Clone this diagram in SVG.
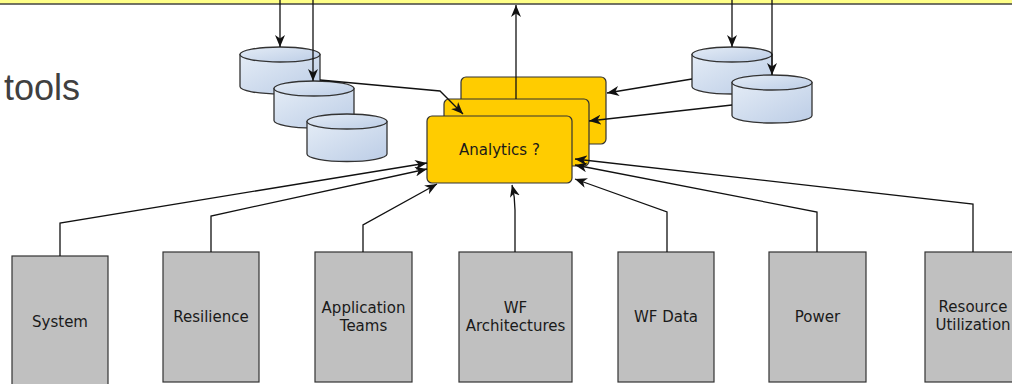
<svg xmlns="http://www.w3.org/2000/svg" width="1012" height="384" viewBox="0 0 1012 384">
  <defs>
    <linearGradient id="cylFill" x1="0" y1="0" x2="1" y2="1">
      <stop offset="0" stop-color="#e4ecf6"/>
      <stop offset="1" stop-color="#bccde6"/>
    </linearGradient>
    <marker id="arrow" viewBox="0 0 12 10" refX="12" refY="5" markerWidth="12" markerHeight="10" markerUnits="userSpaceOnUse" orient="auto">
      <path d="M0,0 L12,5 L0,10 L3.5,5 Z" fill="#111"/>
    </marker>
    <style>
      .cyl { fill: url(#cylFill); stroke: #333; stroke-width: 1.3; }
      .ana { fill: #ffcc00; stroke: #333; stroke-width: 1.2; }
      .src { fill: #c0c0c0; stroke: #333; stroke-width: 1.2; }
      .lbl { font-family: "DejaVu Sans", Verdana, sans-serif; font-size: 15px; fill: #1a1a1a; text-anchor: middle; }
      .edge { fill: none; stroke: #111; stroke-width: 1.3; }
      .arr { marker-end: url(#arrow); }
    </style>
  </defs>

  <rect width="1012" height="384" fill="#ffffff"/>

  <!-- top band -->
  <g id="top-band">
    <rect x="-5" y="-10" width="1022" height="14" fill="#ffff88" stroke="#444" stroke-width="1.5"/>
  </g>

  <text x="4" y="100" font-family="Liberation Sans, Arial, sans-serif" font-size="36" fill="#404040">tools</text>

  <!-- left storage stack -->
  <g id="store-l1">
    <path class="cyl" d="M240,54.5 L240,86.5 A40,7.5 0 0 0 320,86.5 L320,54.5 Z"/>
    <ellipse class="cyl" cx="280" cy="54.5" rx="40" ry="7.5"/>
  </g>
  <g id="store-l2">
    <path class="cyl" d="M274,88.5 L274,120.5 A40,7.5 0 0 0 354,120.5 L354,88.5 Z"/>
    <ellipse class="cyl" cx="314" cy="88.5" rx="40" ry="7.5"/>
  </g>
  <g id="store-l3">
    <path class="cyl" d="M307,121.5 L307,154 A40,7.5 0 0 0 387,154 L387,121.5 Z"/>
    <ellipse class="cyl" cx="347" cy="121.5" rx="40" ry="7.5"/>
  </g>

  <!-- right storage pair -->
  <g id="store-r1">
    <path class="cyl" d="M692,54.5 L692,86.5 A40,7.5 0 0 0 772,86.5 L772,54.5 Z"/>
    <ellipse class="cyl" cx="732" cy="54.5" rx="40" ry="7.5"/>
  </g>
  <g id="store-r2">
    <path class="cyl" d="M732,82.5 L732,115.5 A40,7.5 0 0 0 812,115.5 L812,82.5 Z"/>
    <ellipse class="cyl" cx="772" cy="82.5" rx="40" ry="7.5"/>
  </g>

  <!-- analytics stack -->
  <g id="analytics-back">
    <rect class="ana" x="461" y="77" width="145" height="67" rx="5"/>
  </g>
  <g id="analytics-mid">
    <rect class="ana" x="444" y="99" width="145" height="67" rx="5"/>
  </g>
  <g id="analytics">
    <rect class="ana" x="427" y="116" width="145" height="67" rx="5"/>
    <text class="lbl" x="499.5" y="155">Analytics ?</text>
  </g>

  <!-- data sources -->
  <g id="src-system">
    <rect class="src" x="12" y="256" width="96" height="134"/>
    <text class="lbl" x="60" y="327">System</text>
  </g>
  <g id="src-resilience">
    <rect class="src" x="163" y="252" width="96" height="130"/>
    <text class="lbl" x="211" y="322">Resilience</text>
  </g>
  <g id="src-app-teams">
    <rect class="src" x="315" y="252" width="97" height="130"/>
    <text class="lbl" x="363.5" y="313">Application</text>
    <text class="lbl" x="363.5" y="331">Teams</text>
  </g>
  <g id="src-wf-arch">
    <rect class="src" x="459" y="252" width="113" height="130"/>
    <text class="lbl" x="515.5" y="313">WF</text>
    <text class="lbl" x="515.5" y="331">Architectures</text>
  </g>
  <g id="src-wf-data">
    <rect class="src" x="618" y="252" width="96" height="130"/>
    <text class="lbl" x="666" y="322">WF Data</text>
  </g>
  <g id="src-power">
    <rect class="src" x="769" y="252" width="97" height="130"/>
    <text class="lbl" x="817.5" y="322">Power</text>
  </g>
  <g id="src-resource">
    <rect class="src" x="925" y="252" width="96" height="130"/>
    <text class="lbl" x="973" y="312">Resource</text>
    <text class="lbl" x="973" y="330">Utilization</text>
  </g>

  <!-- connectors -->
  <g id="connectors">
    <path class="edge arr" d="M280,0 L280,47"/>
    <path class="edge arr" d="M313,0 L313,81"/>
    <path class="edge arr" d="M732,0 L732,47"/>
    <path class="edge arr" d="M772,0 L772,75"/>
    <path class="edge arr" d="M516,99 L516,5"/>
    <path class="edge arr" d="M320,80 L440,91 L463,114"/>
    <path class="edge arr" d="M692,79 L607,93"/>
    <path class="edge arr" d="M732,105 L589,121"/>
    <path class="edge arr" d="M60,256 L60,223 L427,163"/>
    <path class="edge arr" d="M211,252 L211,216 L427,169"/>
    <path class="edge arr" d="M363,252 L363,225 L437,184"/>
    <path class="edge arr" d="M515,252 L515,210 Q515,197 512,185"/>
    <path class="edge arr" d="M667,252 L667,212 L575,179"/>
    <path class="edge arr" d="M817,252 L817,212 L575,165"/>
    <path class="edge arr" d="M973,252 L973,204 L575,159"/>
  </g>
</svg>
